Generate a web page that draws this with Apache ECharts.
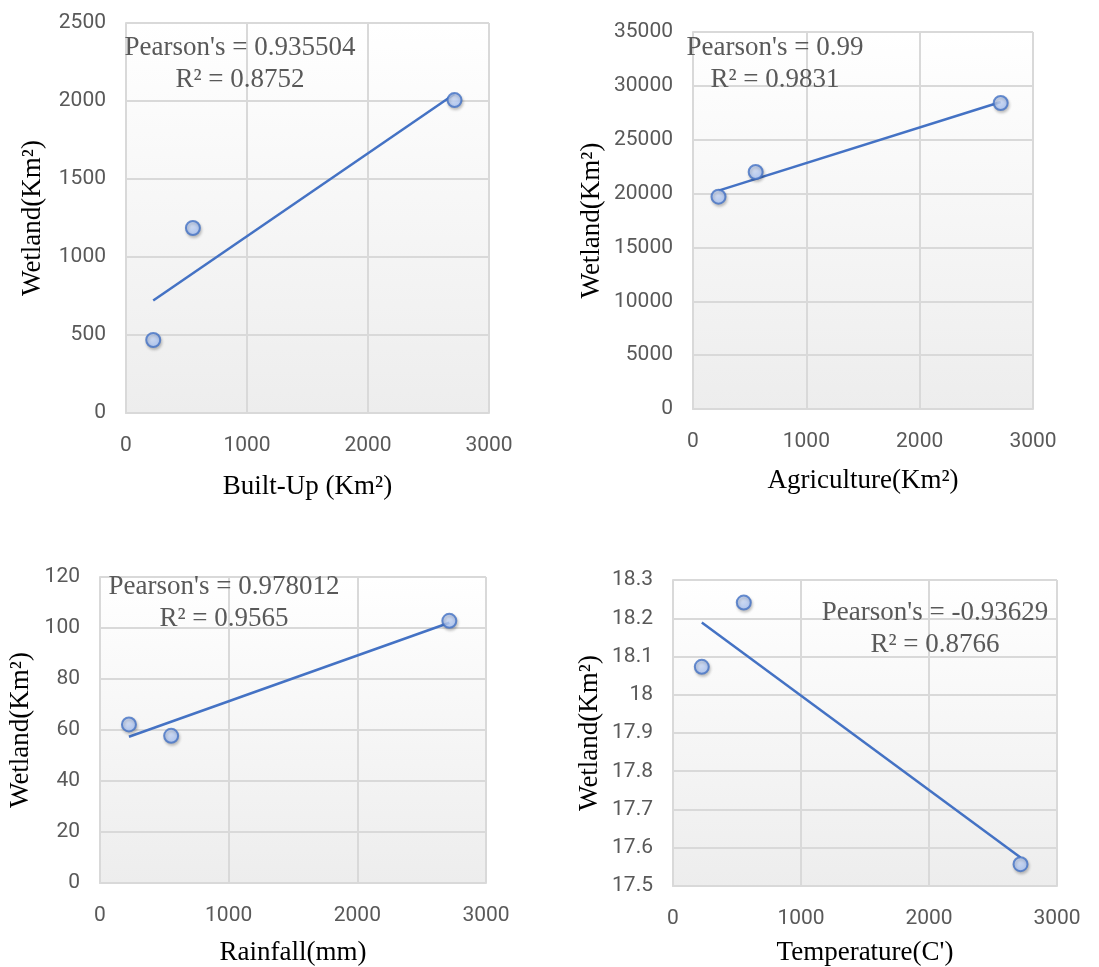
<!DOCTYPE html>
<html>
<head>
  <meta charset="utf-8">
  <title>Wetland correlations</title>
  <script src="https://cdn.jsdelivr.net/npm/echarts@6/dist/echarts.min.js"></script>
  <style>
    html, body { margin: 0; padding: 0; background: #fff; }
    #chart { width: 1099px; height: 967px; }
  </style>
</head>
<body>
  <div id="chart"></div>
  <script>
    // x values are shared by all four panels
    var xValues = [225, 553, 2715];

    var builtUpWetland = [468, 1186, 2006];
    var agricultureWetland = [19710, 22000, 28410];
    var rainfallWetland = [62.2, 57.7, 102.8];
    var temperatureWetland = [18.073, 18.241, 17.557];

    var xTitles = ['Built-Up (Km²)', 'Agriculture(Km²)', 'Rainfall(mm)', 'Temperature(C\')'];
    var yTitle = 'Wetland(Km²)';
    var pearsonText = ["Pearson's = 0.935504", "Pearson's = 0.99", "Pearson's = 0.978012", "Pearson's = -0.93629"];
    var r2Text = ['R² = 0.8752', 'R² = 0.9831', 'R² = 0.9565', 'R² = 0.8766'];

    var yAxisRanges = [
      { min: 0, max: 2500, interval: 500 },
      { min: 0, max: 35000, interval: 5000 },
      { min: 0, max: 120, interval: 20 },
      { min: 17.5, max: 18.3, interval: 0.1 }
    ];

    var panels = [builtUpWetland, agricultureWetland, rainfallWetland, temperatureWetland];

    // plot rectangles
    var grids = [
      { left: 126, top: 23, width: 363, height: 390, yGap: 80, xGap: 60 },
      { left: 693, top: 32, width: 340, height: 377, yGap: 88, xGap: 58 },
      { left: 100, top: 577, width: 386, height: 309, yGap: 66, xGap: 56 },
      { left: 673, top: 580, width: 384, height: 306, yGap: 70, xGap: 53 }
    ];
    var notePos = [[240, 48], [775, 48], [224, 587], [935, 613]];

    // least squares fit, same as the excel trendline
    function linearFit(xs, ys) {
      var n = xs.length, mx = 0, my = 0;
      for (var i = 0; i < n; i++) { mx += xs[i]; my += ys[i]; }
      mx /= n; my /= n;
      var sxy = 0, sxx = 0;
      for (var j = 0; j < n; j++) {
        sxy += (xs[j] - mx) * (ys[j] - my);
        sxx += (xs[j] - mx) * (xs[j] - mx);
      }
      var slope = sxy / sxx;
      return { slope: slope, intercept: my - slope * mx };
    }

    // plain numbers, no thousand separators (like excel "General")
    function plain(v) {
      return String(Math.round(v * 1000) / 1000);
    }

    var labelFont = 'Roboto, "Open Sans", sans-serif';
    var serifFont = '"Liberation Serif", "DejaVu Serif", serif';
    var gridColor = '#d9d9d9';

    var option = { animation: false, grid: [], xAxis: [], yAxis: [], series: [], graphic: [] };

    panels.forEach(function (ys, i) {
      var g = grids[i];
      option.grid.push({
        left: g.left, top: g.top, width: g.width, height: g.height,
        show: true, borderWidth: 0,
        backgroundColor: {
          type: 'linear', x: 0, y: 0, x2: 0, y2: 1,
          colorStops: [{ offset: 0, color: '#ffffff' }, { offset: 1, color: '#ededed' }]
        }
      });
      option.xAxis.push({
        type: 'value', gridIndex: i, min: 0, max: 3000, interval: 1000,
        name: xTitles[i], nameLocation: 'middle', nameGap: g.xGap,
        nameTextStyle: { fontFamily: serifFont, fontSize: 27, color: '#000' },
        axisLine: { show: true, lineStyle: { color: gridColor, width: 2 } },
        axisTick: { show: false },
        axisLabel: { fontFamily: labelFont, fontSize: 21, color: '#595959', margin: 22, formatter: plain },
        splitLine: { show: true, lineStyle: { color: gridColor, width: 2 } }
      });
      var r = yAxisRanges[i];
      option.yAxis.push({
        type: 'value', gridIndex: i, min: r.min, max: r.max, interval: r.interval,
        name: yTitle, nameLocation: 'middle', nameGap: g.yGap,
        nameTextStyle: { fontFamily: serifFont, fontSize: 27, color: '#000' },
        axisLine: { show: true, lineStyle: { color: gridColor, width: 2 } },
        axisTick: { show: false },
        axisLabel: { fontFamily: labelFont, fontSize: 21, color: '#595959', margin: 20, formatter: plain },
        splitLine: { show: true, lineStyle: { color: gridColor, width: 2 } }
      });

      var fit = linearFit(xValues, ys);
      var x0 = Math.min.apply(null, xValues), x1 = Math.max.apply(null, xValues);
      option.series.push({
        type: 'line', xAxisIndex: i, yAxisIndex: i, z: 2,
        data: [[x0, fit.intercept + fit.slope * x0], [x1, fit.intercept + fit.slope * x1]],
        showSymbol: false, symbol: 'none',
        lineStyle: { color: '#4472c4', width: 2.5 }
      });
      option.series.push({
        type: 'scatter', xAxisIndex: i, yAxisIndex: i, z: 3,
        data: xValues.map(function (x, k) { return [x, ys[k]]; }),
        symbol: 'circle', symbolSize: 14,
        itemStyle: {
          color: {
            type: 'radial', x: 0.4, y: 0.35, r: 0.7,
            colorStops: [{ offset: 0, color: '#d3e1fc' }, { offset: 1, color: '#a2bff6' }]
          },
          borderColor: '#4472c4', borderWidth: 2,
          shadowColor: 'rgba(0,0,0,0.25)', shadowBlur: 3, shadowOffsetX: 1, shadowOffsetY: 2
        }
      });

      option.graphic.push({
        type: 'text', x: notePos[i][0], y: notePos[i][1] + 16, z: 10,
        style: {
          text: pearsonText[i] + '\n' + r2Text[i],
          font: '27px ' + serifFont, fill: '#595959',
          align: 'center', verticalAlign: 'middle', lineHeight: 32
        }
      });
    });

    var chart = echarts.init(document.getElementById('chart'));
    chart.setOption(option);
  </script>
</body>
</html>
